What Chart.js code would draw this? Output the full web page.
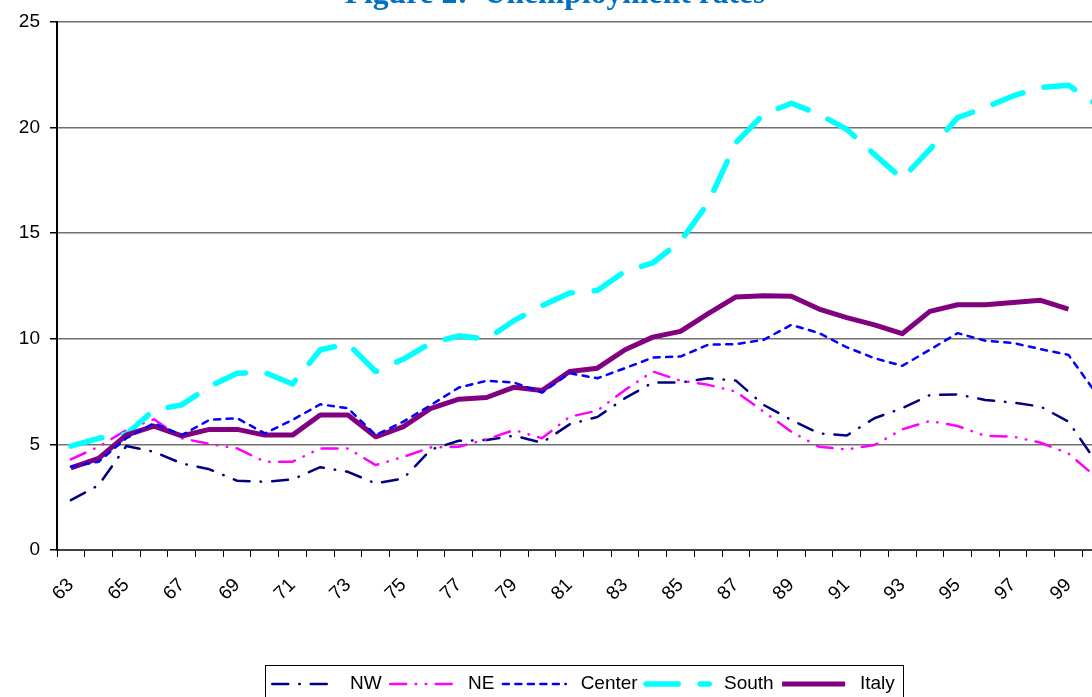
<!DOCTYPE html>
<html>
<head>
<meta charset="utf-8">
<script src="https://cdn.jsdelivr.net/npm/chart.js@4.4.1/dist/chart.umd.min.js"></script>
<style>
  html, body { margin: 0; padding: 0; background: #fff; overflow: hidden; }
  .chart-container { position: absolute; left: 0; top: -40px; width: 1118px; height: 750px; }
</style>
</head>
<body>
<div class="chart-container"><canvas id="myChart"></canvas></div>
<script>
// categories (years 1963-2000, two-digit)
const years = ['63', '64', '65', '66', '67', '68', '69', '70', '71', '72', '73', '74', '75', '76', '77', '78', '79', '80', '81',
  '82', '83', '84', '85', '86', '87', '88', '89', '90', '91', '92', '93', '94', '95', '96', '97', '98', '99', '100'];
// only every other year is labelled on the axis
const shownYears = ['63', '65', '67', '69', '71', '73', '75', '77', '79', '81', '83', '85', '87', '89', '91', '93', '95', '97', '99'];
const yTicks = [0, 5, 10, 15, 20, 25];

// unemployment rates, %
const nw = [2.36, 3.07, 4.92, 4.65, 4.10, 3.82, 3.28, 3.23, 3.34, 3.92, 3.70, 3.15, 3.39, 4.76, 5.17, 5.21, 5.41, 5.08, 5.95,
  6.30, 7.19, 7.93, 7.93, 8.13, 8.02, 6.87, 6.16, 5.52, 5.42, 6.24, 6.71, 7.34, 7.37, 7.10, 6.98, 6.79, 6.08, 4.17];
const ne = [4.29, 4.89, 5.68, 6.19, 5.29, 5.02, 4.81, 4.18, 4.18, 4.81, 4.81, 4.02, 4.41, 4.86, 4.89, 5.24, 5.68, 5.29, 6.31,
  6.60, 7.58, 8.45, 8.02, 7.82, 7.50, 6.55, 5.60, 4.89, 4.76, 4.97, 5.71, 6.11, 5.87, 5.40, 5.37, 5.08, 4.57, 3.45];
const center = [3.94, 4.18, 5.29, 6.00, 5.44, 6.16, 6.24, 5.52, 6.16, 6.90, 6.71, 5.44, 6.08, 6.87, 7.69, 8.01, 7.93, 7.45, 8.37,
  8.13, 8.61, 9.11, 9.16, 9.72, 9.75, 9.95, 10.66, 10.27, 9.60, 9.08, 8.72, 9.48, 10.27, 9.91, 9.80, 9.51, 9.24, 7.42];
const south = [4.92, 5.29, 5.48, 6.63, 6.87, 7.74, 8.37, 8.40, 7.86, 9.48, 9.76, 8.45, 9.04, 9.80, 10.14, 9.98, 10.87, 11.57, 12.17,
  12.29, 13.20, 13.59, 14.62, 16.44, 19.29, 20.63, 21.15, 20.63, 19.92, 18.73, 17.58, 18.97, 20.47, 20.95, 21.50, 21.90, 22.01, 21.10];
const italy = [3.89, 4.34, 5.44, 5.87, 5.40, 5.71, 5.71, 5.44, 5.44, 6.39, 6.39, 5.36, 5.84, 6.71, 7.14, 7.22, 7.71, 7.55, 8.45,
  8.61, 9.48, 10.08, 10.35, 11.19, 11.98, 12.04, 12.01, 11.41, 11.00, 10.66, 10.24, 11.30, 11.61, 11.61, 11.72, 11.82, 11.41, null];

const sansFont = "'Liberation Sans', Arial, sans-serif";

// frame around the legend, like the Excel legend box
const legendBox = {
  id: 'legendBox',
  afterDraw(chart) {
    const boxes = chart.legend && chart.legend.legendHitBoxes;
    if (!boxes || !boxes.length) return;
    const first = boxes[0];
    const last = boxes[boxes.length - 1];
    const ctx = chart.ctx;
    const left = Math.round(first.left - 7) + 0.5;
    const top = Math.round(first.top - 10) + 0.5;
    const right = Math.round(last.left + last.width + 8) + 0.5;
    ctx.save();
    ctx.strokeStyle = '#000';
    ctx.lineWidth = 1;
    ctx.strokeRect(left, top, right - left, 60);
    ctx.restore();
  }
};

const lineDefaults = { pointRadius: 0, tension: 0, fill: false, borderCapStyle: 'round', borderJoinStyle: 'round' };

const chartData = {
  labels: years,
  datasets: [
    { ...lineDefaults, label: 'NW', data: nw, borderColor: '#000080', backgroundColor: '#000080',
      borderWidth: 2.5, borderDash: [16, 11, 0.5, 11], order: 4 },
    { ...lineDefaults, label: 'NE', data: ne, borderColor: '#FF00FF', backgroundColor: '#FF00FF',
      borderWidth: 2.5, borderDash: [16, 9.5, 0.5, 9.5, 0.5, 9.5], order: 3 },
    { ...lineDefaults, label: 'Center', data: center, borderColor: '#0000FF', backgroundColor: '#0000FF',
      borderWidth: 2.5, borderDash: [6, 6.5], order: 0 },
    { ...lineDefaults, label: 'South', data: south, borderColor: '#00FFFF', backgroundColor: '#00FFFF',
      borderWidth: 5.5, borderDash: [32, 22], order: 2 },
    { ...lineDefaults, label: 'Italy', data: italy, borderColor: '#800080', backgroundColor: '#800080',
      borderWidth: 5, borderCapStyle: 'butt', order: 1 }
  ]
};

const chartOptions = {
  responsive: true,
  maintainAspectRatio: false,
  animation: false,
  devicePixelRatio: 1,
  layout: { padding: { left: 0, right: 8, top: 0, bottom: 6.5 } },
  scales: {
    x: {
      offset: true,
      afterFit: (scale) => {
        scale.height = 116;
        // the plot runs on past the right edge, so no room is kept for the last label
        scale.paddingLeft = 0;
        scale.paddingRight = 0;
      },
      grid: { drawOnChartArea: false, offset: true, drawTicks: true, tickLength: 7, color: '#000', tickColor: '#000', lineWidth: 1 },
      border: { display: true, color: '#404040', width: 2 },
      ticks: {
        autoSkip: false,
        minRotation: 45,
        maxRotation: 45,
        padding: 17,
        color: '#000',
        font: { family: sansFont, size: 19 },
        callback: function (value, index) {
          const y = years[index];
          return shownYears.includes(y) ? y : '';
        }
      }
    },
    y: {
      min: yTicks[0],
      max: yTicks[yTicks.length - 1],
      afterFit: (scale) => { scale.width = 57; },
      afterBuildTicks: (scale) => { scale.ticks = yTicks.map(v => ({ value: v })); },
      grid: { color: '#707070', lineWidth: 1.5, drawTicks: true, tickLength: 7, tickColor: '#000' },
      border: { display: true, color: '#000', width: 2 },
      ticks: { padding: 10, color: '#000', font: { family: sansFont, size: 19 } }
    }
  },
  plugins: {
    title: {
      display: true,
      text: 'Figure 2:  Unemployment rates',
      color: '#0070C0',
      font: { family: "'Liberation Serif', 'Times New Roman', serif", size: 31.6, weight: 'bold' },
      padding: { top: 16, bottom: 8.08 }
    },
    legend: {
      display: true,
      position: 'bottom',
      fullSize: false,
      align: 'center',
      labels: {
        usePointStyle: true,
        pointStyle: 'line',
        pointStyleWidth: 63,
        padding: 8.5,
        color: '#000',
        font: { family: sansFont, size: 19 },
        // legend samples take the dash pattern of each series
        generateLabels: (chart) => {
          const items = Chart.defaults.plugins.legend.labels.generateLabels(chart);
          items.forEach(item => {
            const ds = chart.data.datasets[item.datasetIndex];
            item.text = ' ' + ds.label;
            item.strokeStyle = ds.borderColor;
            item.lineWidth = ds.borderWidth;
            item.lineDash = ds.borderDash || [];
            item.lineCap = ds.borderCapStyle;
          });
          return items;
        },
        sort: (a, b) => a.datasetIndex - b.datasetIndex
      }
    },
    tooltip: { enabled: false }
  }
};

const ctx = document.getElementById('myChart').getContext('2d');
const chart = new Chart(ctx, {
  type: 'line',
  data: chartData,
  options: chartOptions,
  plugins: [legendBox]
});
</script>
</body>
</html>
